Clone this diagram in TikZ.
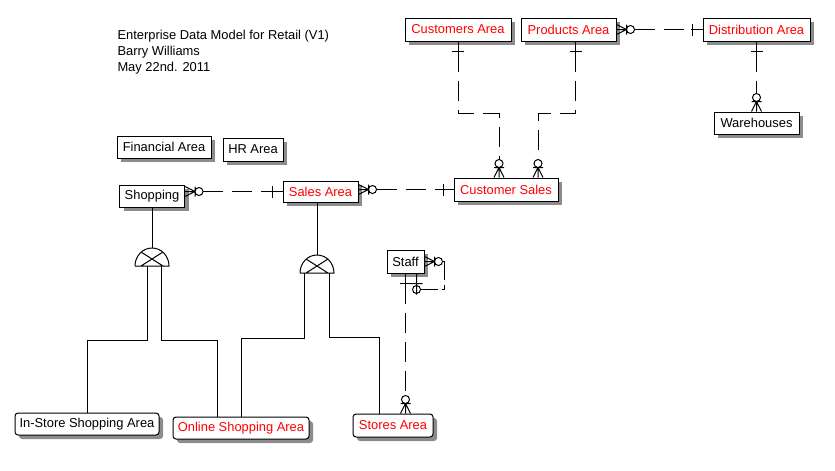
\documentclass[tikz,border=0pt]{standalone}
\usepackage{fontspec}
\setmainfont{Liberation Sans}
\usetikzlibrary{shadows}
\tikzset{
    zmany/.pic={\draw (0,-5)--(10,0) (0,0)--(10,0) (0,5)--(10,0) (10,-5)--(10,5) (14,0) circle[radius=4pt];},
    one/.pic={\draw (0,0)--(12,0) (10,-6)--(10,6);},
    zone/.pic={\draw (0,0)--(21,0) (10,-6)--(10,6) (16,0) circle[radius=4pt];},
    subcat/.pic={\draw (-17,0)--(17,0) arc[start angle=0,end angle=180,x radius=17pt,y radius=18pt]
                     (-11,-14)--(11,0) (11,-14)--(-11,0);
                 \coordinate (-top) at (0,-18);
                 \coordinate (-base) at (0,0);}
}
\begin{document}
\begin{tikzpicture}[x=1pt,y=-1pt,line width=1pt,
        every node/.style={font=\fontsize{12.9}{16}\selectfont},
        area/.style={draw,fill=white,inner sep=0pt,
            drop shadow={shadow xshift=4pt,shadow yshift=-4pt,opacity=1,fill=black!45}},
        key/.style={area,text=red},
        dep/.style={area,rounded corners=3pt},
        sz/.style 2 args={minimum width=#1pt,minimum height=#2pt},
        rel/.style={dash pattern=on 20pt off 9pt},
        selfrel/.style={dash pattern=on 20pt off 5pt on 8pt off 4pt}]
                    \useasboundingbox (0,0) rectangle (835,471);

                    \node[align=left,anchor=north west,inner sep=0pt] (title) at (117,29.5)
                        {Enterprise Data Model for Retail (V1)\\Barry Williams\\May 22nd. 2011};

                    \node[key,sz={106}{23}] (cust) at (458,29.5) {Customers Area};
                    \node[key,sz={95}{23}] (prod) at (568.5,29.5) {Products Area};
                    \node[key,sz={107}{23}] (dist) at (756.5,29.5) {Distribution Area};
                    \node[area,sz={85}{22}] (ware) at (756.5,123) {Warehouses};
                    \node[area,sz={94}{22}] (fin) at (164,147) {Financial Area};
                    \node[area,sz={60}{23}] (hr) at (253,149.5) {HR Area};
                    \node[area,sz={65}{22}] (shop) at (152,196) {Shopping};
                    \node[key,sz={75}{21}] (sales) at (320.5,191.5) {Sales Area};
                    \node[key,sz={104}{23}] (csales) at (506,189.5) {Customer Sales};
                    \node[area,sz={37}{23}] (staff) at (405.5,261.5) {Staff};
                    \node[dep,text=red,sz={80}{23}] (stores) at (393,425.5) {Stores Area};
                    \node[dep,sz={144}{22}] (instore) at (87,424) {In-Store Shopping Area};
                    \node[dep,text=red,sz={136}{22}] (online) at (241,428) {Online Shopping Area};

                    \coordinate (shopR) at (shop.east |- sales.west);
                    \coordinate (salesR) at (sales.east |- csales.west);
                    \coordinate (storesT) at (staff.south |- stores.north);

                    \pic[rotate=-90] at (cust.south) {one};
                    \pic[rotate=-90] at ([xshift=7pt]prod.south) {one};
                    \pic[rotate=90] at ([xshift=-7pt]csales.north) {zmany};
                    \pic[rotate=90] at ([xshift=32pt]csales.north) {zmany};
                    \draw[rel] (cust.south) ++(0,10) -- ++(0,62) -| ([xshift=-7pt,yshift=18pt]csales.north);
                    \draw[rel] ([xshift=7pt]prod.south) ++(0,10) -- ++(0,62) -| ([xshift=32pt,yshift=18pt]csales.north);

                    \pic at (prod.east) {zmany};
                    \pic[rotate=180] at (dist.west) {one};
                    \draw[rel] ([xshift=18pt]prod.east) -- ([xshift=-10pt]dist.west);

                    \pic[rotate=-90] at (dist.south) {one};
                    \pic[rotate=90] at (ware.north) {zmany};
                    \draw[rel] (dist.south) ++(0,10) -- ([yshift=18pt]ware.north);

                    \pic at (shopR) {zmany};
                    \pic[rotate=180] at (sales.west) {one};
                    \draw[rel] ([xshift=18pt]shopR) -- ([xshift=-10pt]sales.west);

                    \pic at (salesR) {zmany};
                    \pic[rotate=180] at (csales.west) {one};
                    \draw[rel] ([xshift=18pt]salesR) -- ([xshift=-10pt]csales.west);

                    \pic[rotate=-90] at (staff.south) {one};
                    \pic[rotate=90] at (storesT) {zmany};
                    \draw[rel] (staff.south) ++(0,10) -- ([yshift=18pt]storesT);

                    \pic at (staff.east) {zmany};
                    \pic[rotate=-90] at ([xshift=11pt]staff.south) {zone};
                    \draw[selfrel] ([xshift=18pt]staff.east) -- ++(2,0) |- ([xshift=15pt,yshift=-16pt]staff.south);

                    \pic (s1) at (152,266) {subcat};
                    \pic (s2) at (317,273) {subcat};
                    \draw (shop.south) -- (s1-top);
                    \draw (sales.south -| s2-top) -- (s2-top);
                    \draw ([xshift=-5pt]s1-base) -- ++(0,74) -| (instore.north);
                    \draw ([xshift=9pt]s1-base) -- ++(0,74) -| ([xshift=-24pt]online.north);
                    \draw ([xshift=-13pt]s2-base) -- ++(0,65) -| (online.north);
                    \draw ([xshift=12pt]s2-base) -- ++(0,64) -| ([xshift=-14pt]stores.north);
                \end{tikzpicture}
\end{document}
